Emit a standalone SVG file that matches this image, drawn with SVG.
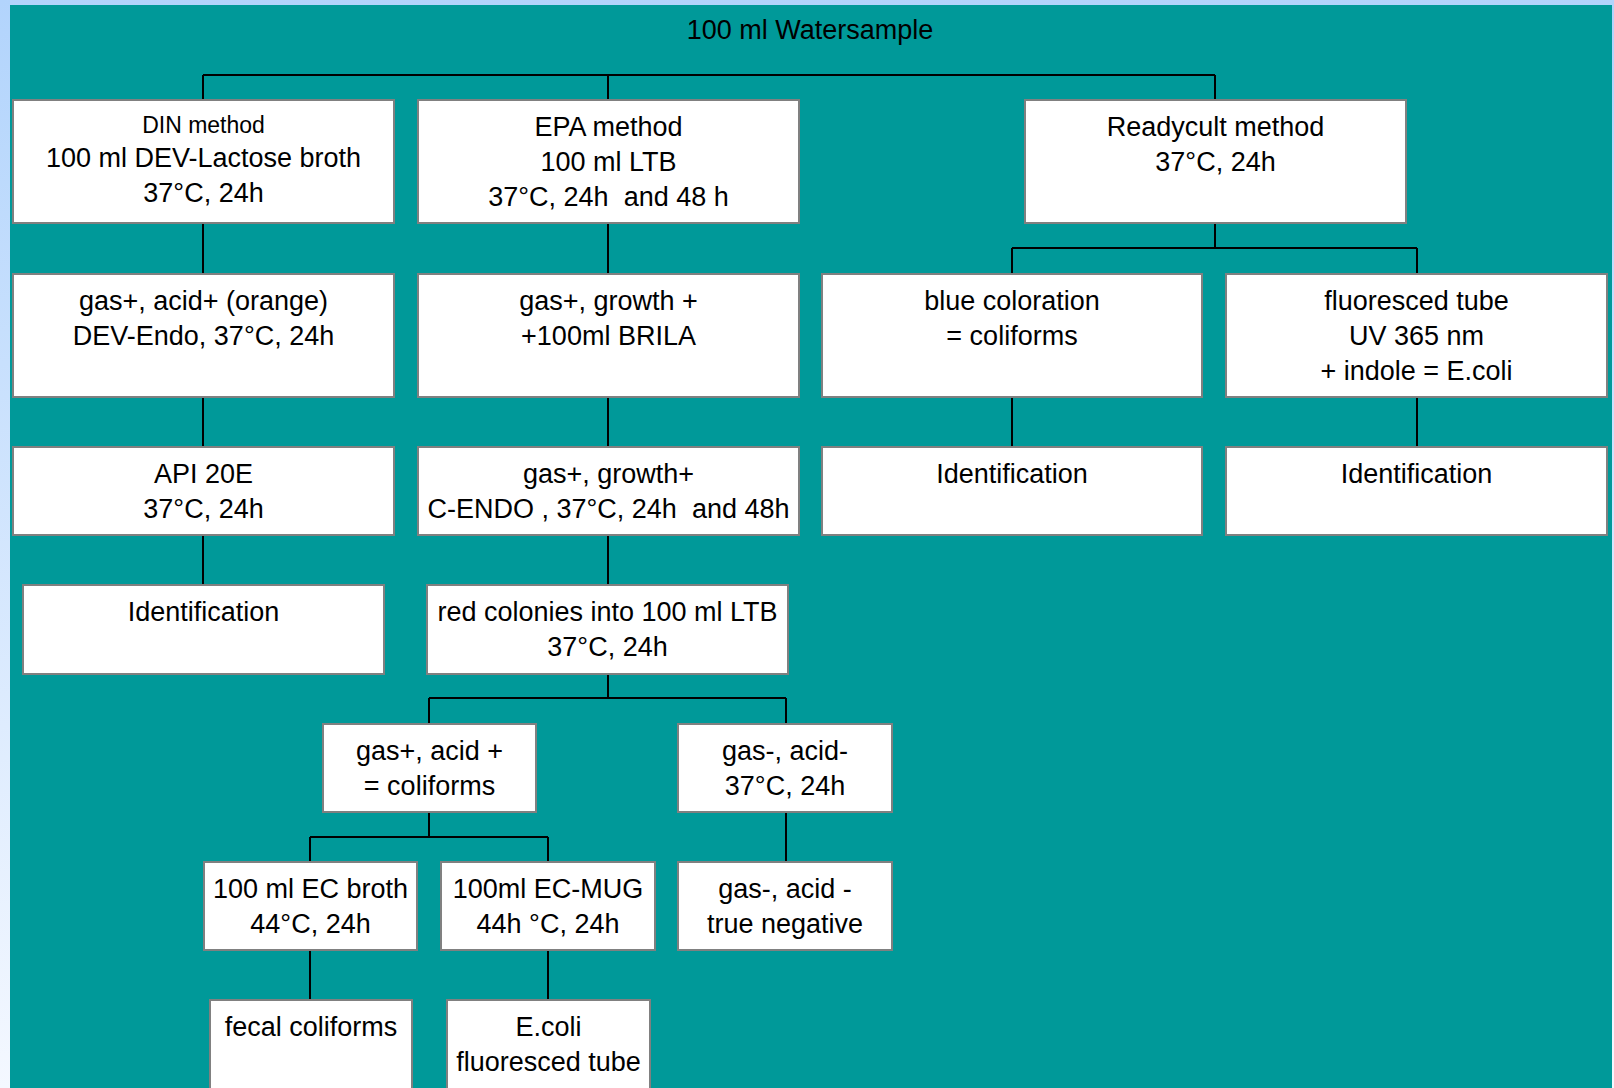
<svg xmlns="http://www.w3.org/2000/svg" width="1614" height="1088" viewBox="0 0 1614 1088">
<defs>
<linearGradient id="bg" x1="0" y1="0" x2="0" y2="1">
<stop offset="0" stop-color="#b2d4fc"/>
<stop offset="1" stop-color="#f4f8ff"/>
</linearGradient>
<style>
.box{fill:#ffffff;stroke:#808080;stroke-width:2}
.t{font-family:"Liberation Sans",Arial,sans-serif;font-size:27px;fill:#000;text-anchor:middle}
.s{font-size:23px}
.p{white-space:pre}
.c{fill:none;stroke:#000;stroke-width:2}
</style>
</defs>
<rect x="0" y="0" width="1614" height="1088" fill="url(#bg)"/>
<rect x="10" y="5" width="1602" height="1083" fill="#009999"/>
<text class="t" x="810" y="39">100 ml Watersample</text>
<g id="connectors">
<path class="c" d="M203,75 H1215 M203,75 V100 M608,75 V100 M1215,75 V100"/>
<path class="c" d="M203,223 V274 M203,397 V447 M203,535 V585"/>
<path class="c" d="M608,223 V274 M608,397 V447 M608,535 V585 M608,674 V698"/>
<path class="c" d="M1215,223 V248 M1012,248 H1417 M1012,248 V274 M1417,248 V274"/>
<path class="c" d="M1012,397 V447 M1417,397 V447"/>
<path class="c" d="M429,698 H786 M429,698 V724 M786,698 V724"/>
<path class="c" d="M429,812 V837 M310,837 H548 M310,837 V862 M548,837 V862"/>
<path class="c" d="M786,812 V862"/>
<path class="c" d="M310,950 V1000 M548,950 V1000"/>
</g>
<g id="din">
<rect class="box" x="13" y="100" width="381" height="123"/>
<text class="t" x="203.5"><tspan class="s" x="203.5" y="133">DIN method</tspan><tspan x="203.5" y="167">100 ml DEV-Lactose broth</tspan><tspan x="203.5" y="202">37°C, 24h</tspan></text>
</g>
<g id="epa">
<rect class="box" x="418" y="100" width="381" height="123"/>
<text class="t p" xml:space="preserve"><tspan x="608.5" y="136">EPA method</tspan><tspan x="608.5" y="171">100 ml LTB</tspan><tspan x="608.5" y="206">37°C, 24h  and 48 h</tspan></text>
</g>
<g id="readycult">
<rect class="box" x="1025" y="100" width="381" height="123"/>
<text class="t"><tspan x="1215.5" y="136">Readycult method</tspan><tspan x="1215.5" y="171">37°C, 24h</tspan></text>
</g>
<g id="din-gas">
<rect class="box" x="13" y="274" width="381" height="123"/>
<text class="t"><tspan x="203.5" y="310">gas+, acid+ (orange)</tspan><tspan x="203.5" y="345">DEV-Endo, 37°C, 24h</tspan></text>
</g>
<g id="epa-gas">
<rect class="box" x="418" y="274" width="381" height="123"/>
<text class="t"><tspan x="608.5" y="310">gas+, growth +</tspan><tspan x="608.5" y="345">+100ml BRILA</tspan></text>
</g>
<g id="blue">
<rect class="box" x="822" y="274" width="380" height="123"/>
<text class="t"><tspan x="1012" y="310">blue coloration</tspan><tspan x="1012" y="345">= coliforms</tspan></text>
</g>
<g id="fluor">
<rect class="box" x="1226" y="274" width="381" height="123"/>
<text class="t"><tspan x="1416.5" y="310">fluoresced tube</tspan><tspan x="1416.5" y="345">UV 365 nm</tspan><tspan x="1416.5" y="380">+ indole = E.coli</tspan></text>
</g>
<g id="api">
<rect class="box" x="13" y="447" width="381" height="88"/>
<text class="t"><tspan x="203.5" y="483">API 20E</tspan><tspan x="203.5" y="518">37°C, 24h</tspan></text>
</g>
<g id="cendo">
<rect class="box" x="418" y="447" width="381" height="88"/>
<text class="t p" xml:space="preserve"><tspan x="608.5" y="483">gas+, growth+</tspan><tspan x="608.5" y="518">C-ENDO , 37°C, 24h  and 48h</tspan></text>
</g>
<g id="blue-id">
<rect class="box" x="822" y="447" width="380" height="88"/>
<text class="t" x="1012" y="483">Identification</text>
</g>
<g id="fluor-id">
<rect class="box" x="1226" y="447" width="381" height="88"/>
<text class="t" x="1416.5" y="483">Identification</text>
</g>
<g id="din-id">
<rect class="box" x="23" y="585" width="361" height="89"/>
<text class="t" x="203.5" y="621">Identification</text>
</g>
<g id="red">
<rect class="box" x="427" y="585" width="361" height="89"/>
<text class="t"><tspan x="607.5" y="621">red colonies into 100 ml LTB</tspan><tspan x="607.5" y="656">37°C, 24h</tspan></text>
</g>
<g id="coliforms">
<rect class="box" x="323" y="724" width="213" height="88"/>
<text class="t"><tspan x="429.5" y="760">gas+, acid +</tspan><tspan x="429.5" y="795">= coliforms</tspan></text>
</g>
<g id="gasneg">
<rect class="box" x="678" y="724" width="214" height="88"/>
<text class="t"><tspan x="785" y="760">gas-, acid-</tspan><tspan x="785" y="795">37°C, 24h</tspan></text>
</g>
<g id="ecbroth">
<rect class="box" x="204" y="862" width="213" height="88"/>
<text class="t"><tspan x="310.5" y="898">100 ml EC broth</tspan><tspan x="310.5" y="933">44°C, 24h</tspan></text>
</g>
<g id="ecmug">
<rect class="box" x="441" y="862" width="214" height="88"/>
<text class="t"><tspan x="548" y="898">100ml EC-MUG</tspan><tspan x="548" y="933">44h °C, 24h</tspan></text>
</g>
<g id="trueneg">
<rect class="box" x="678" y="862" width="214" height="88"/>
<text class="t"><tspan x="785" y="898">gas-, acid -</tspan><tspan x="785" y="933">true negative</tspan></text>
</g>
<g id="fecal">
<rect class="box" x="210" y="1000" width="202" height="100"/>
<text class="t" x="311" y="1036">fecal coliforms</text>
</g>
<g id="ecoli">
<rect class="box" x="447" y="1000" width="203" height="100"/>
<text class="t"><tspan x="548.5" y="1036">E.coli</tspan><tspan x="548.5" y="1071">fluoresced tube</tspan></text>
</g>
</svg>
